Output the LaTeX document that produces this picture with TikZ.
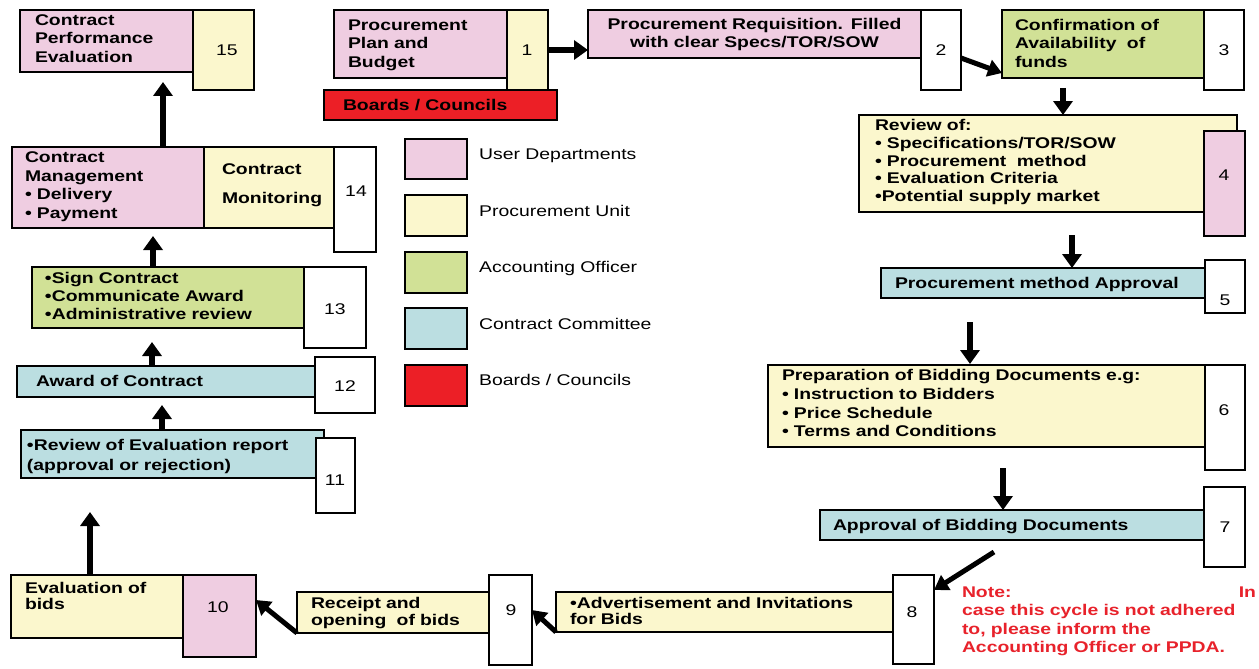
\documentclass[tikz,border=0pt]{standalone}
\usepackage{fontspec}
\setmainfont{Liberation Sans}[FakeStretch=1.25]
\usetikzlibrary{arrows.meta,fit}

\definecolor{userpink}{HTML}{EFCDE1}
\definecolor{unityellow}{HTML}{FBF7CD}
\definecolor{officergreen}{HTML}{D1E196}
\definecolor{committeeblue}{HTML}{BBDEE1}
\definecolor{boardred}{HTML}{EC1F26}
\definecolor{notered}{HTML}{E8222B}

\newcommand\stepfont[1][18.5]{\fontsize{15.5}{#1}\selectfont\bfseries}
\newcommand\numfont{\fontsize{15.5}{18}\selectfont}
\newcommand\keyfont{\fontsize{15.5}{18}\selectfont}

\begin{document}
\begin{tikzpicture}[x=1pt,y=-1pt,
  box/.style={draw=black, line width=1.9pt, inner sep=0pt, outer sep=0pt},
  steptext/.style={anchor=base west, inner sep=0pt, outer sep=0pt, align=left,
                   text width=400pt, font={\stepfont[#1]}},
  steptext/.default=18.5,
  num/.style={font=\numfont, inner sep=0pt},
  keytext/.style={anchor=base west, inner sep=0pt, font=\keyfont},
  flow/.style={line width=6.5pt, -{Triangle[width=19pt,length=14pt]}},
  slant/.style={line width=5pt, -{Triangle[width=17pt,length=14pt]}},
]
\fill[white] (0,0) rectangle (1259,669);
\useasboundingbox (0,0) rectangle (1259,669);

% ---------- step boxes ----------
% 15
\node[box, fill=userpink,   fit={(20,10) (193,72)}] (b15) {};
\node[box, fill=unityellow, fit={(193,10) (254,90)}] (n15) {};
% 1
\node[box, fill=userpink,   fit={(334,10) (507,78)}] (b1) {};
\node[box, fill=unityellow, fit={(507,10) (548,90)}] (n1) {};
\node[box, fill=boardred,   fit={(324,90) (557,120)}] (bc) {};
% 2
\node[box, fill=userpink,   fit={(588,10) (921,58)}] (b2) {};
\node[box, fill=white,      fit={(921,10) (961,90)}] (n2) {};
% 3
\node[box, fill=officergreen, fit={(1002,10) (1204,78)}] (b3) {};
\node[box, fill=white,        fit={(1204,10) (1244,90)}] (n3) {};
% 4
\node[box, fill=unityellow, fit={(859,115) (1237,212)}] (b4) {};
\node[box, fill=userpink,   fit={(1204,131) (1245,236)}] (n4) {};
% 5
\node[box, fill=committeeblue, fit={(881,268) (1205,298)}] (b5) {};
\node[box, fill=white,         fit={(1205,260) (1245,313)}] (n5) {};
% 6
\node[box, fill=unityellow, fit={(768,365) (1205,447)}] (b6) {};
\node[box, fill=white,      fit={(1205,365) (1245,470)}] (n6) {};
% 7
\node[box, fill=committeeblue, fit={(820,510) (1204,540)}] (b7) {};
\node[box, fill=white,         fit={(1204,487) (1245,567)}] (n7) {};
% 8
\node[box, fill=unityellow, fit={(556,592) (893,632)}] (b8) {};
\node[box, fill=white,      fit={(893,575) (934,664)}] (n8) {};
% 9
\node[box, fill=unityellow, fit={(297,592) (489,633)}] (b9) {};
\node[box, fill=white,      fit={(489,575) (532,665)}] (n9) {};
% 10
\node[box, fill=unityellow, fit={(11,575) (183,638)}] (b10) {};
\node[box, fill=userpink,   fit={(183,575) (256,657)}] (n10) {};
% 11
\node[box, fill=committeeblue, fit={(21,430) (324,478)}] (b11) {};
\node[box, fill=white,         fit={(316,438) (355,513)}] (n11) {};
% 12
\node[box, fill=committeeblue, fit={(17,366) (315,397)}] (b12) {};
\node[box, fill=white,         fit={(315,357) (375,413)}] (n12) {};
% 13
\node[box, fill=officergreen, fit={(32,267) (304,328)}] (b13) {};
\node[box, fill=white,        fit={(304,267) (366,348)}] (n13) {};
% 14
\node[box, fill=userpink,   fit={(12,147) (204,228)}] (b14) {};
\node[box, fill=unityellow, fit={(204,147) (334,228)}] (b14m) {};
\node[box, fill=white,      fit={(334,147) (376,252)}] (n14) {};

% ---------- step texts ----------
\node[steptext] (t15) at (35,25.5) {Contract\\Performance\\Evaluation};
\node[steptext] (t1) at (348,30.5) {Procurement\\Plan and\\Budget};
\node[steptext] (tc) at (343,110.5) {Boards / Councils};
\node[steptext, anchor=base, align=center, text width=330pt] (t2) at (754.5,29.5)
  {Procurement Requisition. Filled\\with clear Specs/TOR/SOW};
\node[steptext] (t3) at (1015,30.5) {Confirmation of\\Availability\ \ of\\funds};
\node[steptext=17.8] (t4) at (875,130.5)
  {Review of:\\• Specifications/TOR/SOW\\• Procurement\ \ method\\• Evaluation Criteria\\•Potential supply market};
\node[steptext] (t5) at (895,288.5) {Procurement method Approval};
\node[steptext=18.8] (t6) at (782,380.5)
  {Preparation of Bidding Documents e.g:\\• Instruction to Bidders\\• Price Schedule\\• Terms and Conditions};
\node[steptext] (t7) at (833,530.5) {Approval of Bidding Documents};
\node[steptext=15.5] (t8) at (570,608.5) {•Advertisement and Invitations\\for Bids};
\node[steptext=17] (t9) at (311,608.5) {Receipt and\\opening\ \ of bids};
\node[steptext=15.5] (t10) at (25,593.5) {Evaluation of\\bids};
\node[steptext=20] (t11) at (27,450.5) {•Review of Evaluation report\\(approval or rejection)};
\node[steptext] (t12) at (36,386.5) {Award of Contract};
\node[steptext=18] (t13) at (45,283.5) {•Sign Contract\\•Communicate Award\\•Administrative review};
\node[steptext=18.7] (t14) at (25,162.5) {Contract\\Management\\• Delivery\\• Payment};
\node[steptext=29] (t14m) at (222,174.5) {Contract\\Monitoring};

% ---------- step numbers ----------
\node[num] (k15) at (227,50) {15};
\node[num] (k1) at (527,50) {1};
\node[num] (k2) at (941,50) {2};
\node[num] (k3) at (1224,50) {3};
\node[num] (k4) at (1224,175) {4};
\node[num] (k5) at (1225,300) {5};
\node[num] (k6) at (1224,410) {6};
\node[num] (k7) at (1225,527) {7};
\node[num] (k8) at (912,612) {8};
\node[num] (k9) at (511,610) {9};
\node[num] (k10) at (218,607) {10};
\node[num] (k11) at (335,480) {11};
\node[num] (k12) at (345,386) {12};
\node[num] (k13) at (335,309) {13};
\node[num] (k14) at (356,191) {14};

% ---------- flow arrows ----------
\draw[flow] (n1.east) -- (n1.east -| b2.west);
\draw[slant] ([yshift=-8pt]n2.east) -- ([yshift=5pt]b3.south west);
\draw[flow] ([xshift=-40pt,yshift=-10pt]b3.south) -- ([xshift=15pt]b4.north);
\draw[flow] ([xshift=24pt,yshift=-23pt]b4.south) -- ([xshift=29pt]b5.north);
\draw[flow] ([xshift=-73pt,yshift=-24pt]b5.south) -- ([xshift=-16.5pt,yshift=1pt]b6.north);
\draw[flow] ([xshift=16.5pt,yshift=-21pt]b6.south) -- ([xshift=-9pt]b7.north);
\draw[slant] ([xshift=-18pt,yshift=-12pt]b7.south) -- ([yshift=-15pt]n8.north east);
\draw[slant] (b8.south west) -- ([yshift=10pt]n9.east);
\draw[slant] (b9.south west) -- ([yshift=16pt]n10.east);
\draw[flow] ([xshift=-7pt]b10.north) -- ([xshift=-82.5pt,yshift=-34pt]b11.south);
\draw[flow] ([xshift=-10.5pt]b11.north) -- ([xshift=-4pt,yshift=-8pt]b12.south);
\draw[flow] ([xshift=-14pt]b12.north) -- ([xshift=-16pt,yshift=-14pt]b13.south);
\draw[flow] ([xshift=-15pt]b13.north) -- ([xshift=45pt,yshift=-8pt]b14.south);
\draw[flow] ([xshift=55pt]b14.north) -- ([xshift=56.5pt,yshift=-10pt]b15.south);

% ---------- key ----------
\node[box, fill=userpink,      fit={(405,139) (467,179)}] (s1) {};
\node[box, fill=unityellow,    fit={(405,195) (467,236)}] (s2) {};
\node[box, fill=officergreen,  fit={(405,252) (467,293)}] (s3) {};
\node[box, fill=committeeblue, fit={(405,308) (467,349)}] (s4) {};
\node[box, fill=boardred,      fit={(405,365) (467,406)}] (s5) {};
\node[keytext] (l1) at (479,159.5) {User Departments};
\node[keytext] (l2) at (479,216) {Procurement Unit};
\node[keytext] (l3) at (479,272.5) {Accounting Officer};
\node[keytext] (l4) at (479,329.5) {Contract Committee};
\node[keytext] (l5) at (479,385.5) {Boards / Councils};

% ---------- note ----------
\node[steptext=18.3, text width=294pt, text=notered] (note) at (962,597.5)
  {Note:\hfill In\\case this cycle is not adhered\\to, please inform the\\Accounting Officer or PPDA.};
\end{tikzpicture}
\end{document}
